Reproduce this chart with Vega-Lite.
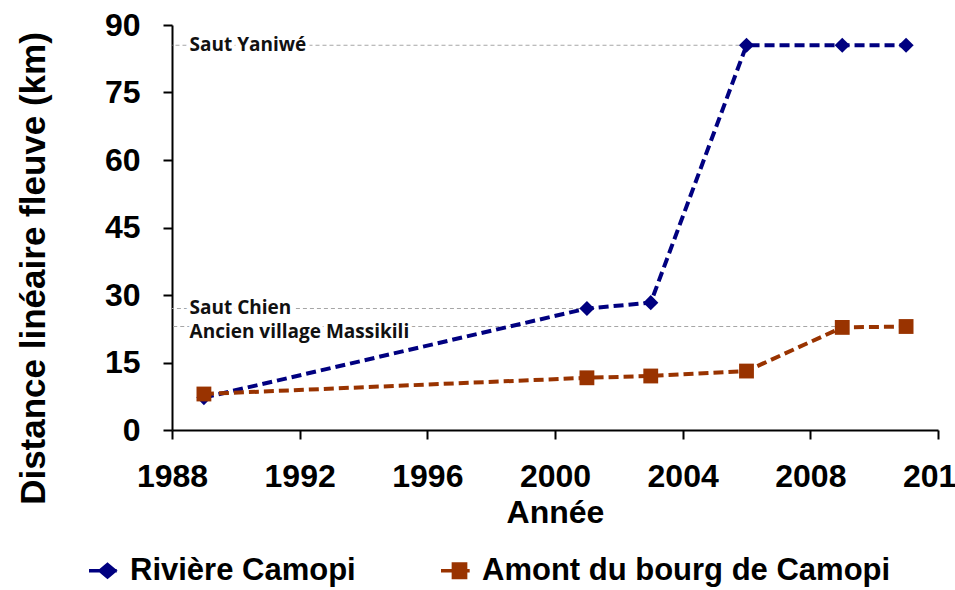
{
  "$schema": "https://vega.github.io/schema/vega-lite/v6.json",
  "width": 766,
  "height": 405,
  "autosize": {"type": "none"},
  "padding": {"left": 172, "top": 25, "right": 17, "bottom": 160},
  "background": "white",
  "datasets": {
    "distances": [
      {"annee": 1989, "serie": "Rivière Camopi", "km": 7.2},
      {"annee": 2001, "serie": "Rivière Camopi", "km": 27},
      {"annee": 2003, "serie": "Rivière Camopi", "km": 28.3},
      {"annee": 2006, "serie": "Rivière Camopi", "km": 85.5},
      {"annee": 2009, "serie": "Rivière Camopi", "km": 85.5},
      {"annee": 2011, "serie": "Rivière Camopi", "km": 85.5},
      {"annee": 1989, "serie": "Amont du bourg de Camopi", "km": 8},
      {"annee": 2001, "serie": "Amont du bourg de Camopi", "km": 11.6},
      {"annee": 2003, "serie": "Amont du bourg de Camopi", "km": 12},
      {"annee": 2006, "serie": "Amont du bourg de Camopi", "km": 13.1},
      {"annee": 2009, "serie": "Amont du bourg de Camopi", "km": 22.8},
      {"annee": 2011, "serie": "Amont du bourg de Camopi", "km": 23}
    ],
    "reperes": [
      {"lieu": "Saut Yaniwé", "km": 85.5, "jusqua": 2006},
      {"lieu": "Saut Chien", "km": 27, "jusqua": 2001},
      {"lieu": "Ancien village Massikili", "km": 23, "jusqua": 2009}
    ]
  },
  "config": {
    "view": {"stroke": null},
    "font": "Liberation Sans",
    "axis": {
      "grid": false,
      "domainColor": "black",
      "domainWidth": 2,
      "tickColor": "black",
      "tickWidth": 2,
      "tickSize": 9,
      "labelFont": "Liberation Sans",
      "labelFontWeight": "bold",
      "labelFontSize": 32,
      "labelColor": "black",
      "titleFont": "Liberation Sans",
      "titleFontWeight": "bold",
      "titleFontSize": 32,
      "titleColor": "black"
    }
  },
  "layer": [
    {
      "data": {"name": "reperes"},
      "mark": {"type": "rule", "color": "#a6a6a6", "strokeWidth": 1.2, "strokeDash": [4, 3]},
      "encoding": {
        "x": {
          "field": "jusqua", "type": "quantitative", "title": "Année",
          "scale": {"domain": [1988, 2012], "nice": false, "zero": false},
          "axis": {"values": [1988, 1992, 1996, 2000, 2004, 2008, 2012], "format": "d", "labelPadding": 22, "titlePadding": 5, "labelFlush": false}
        },
        "x2": {"datum": 1988},
        "y": {
          "field": "km", "type": "quantitative", "title": "Distance linéaire fleuve (km)",
          "scale": {"domain": [0, 90], "nice": false},
          "axis": {"values": [0, 15, 30, 45, 60, 75, 90], "labelPadding": 23, "titleFontSize": 35, "titleX": -139, "titleY": 243, "titleBaseline": "middle", "titleAlign": "center"}
        }
      }
    },
    {
      "data": {"name": "reperes"},
      "transform": [{"filter": "datum.lieu === 'Saut Yaniwé'"}],
      "layer": [
        {
          "mark": {"type": "text", "align": "left", "baseline": "middle", "dy": 0, "font": "Open Sans", "fontWeight": 700, "fontSize": 19, "stroke": "white", "strokeWidth": 8, "strokeJoin": "round", "fill": "white"},
          "encoding": {
            "x": {"datum": 1988.55, "type": "quantitative"},
            "y": {"field": "km", "type": "quantitative"},
            "text": {"field": "lieu"}
          }
        },
        {
          "mark": {"type": "text", "align": "left", "baseline": "middle", "dy": 0, "font": "Open Sans", "fontWeight": 700, "fontSize": 19, "color": "#111111"},
          "encoding": {
            "x": {"datum": 1988.55, "type": "quantitative"},
            "y": {"field": "km", "type": "quantitative"},
            "text": {"field": "lieu"}
          }
        }
      ]
    },
    {
      "data": {"name": "reperes"},
      "transform": [{"filter": "datum.lieu === 'Saut Chien'"}],
      "layer": [
        {
          "mark": {"type": "text", "align": "left", "baseline": "middle", "dy": -1, "font": "Open Sans", "fontWeight": 700, "fontSize": 19, "stroke": "white", "strokeWidth": 8, "strokeJoin": "round", "fill": "white"},
          "encoding": {
            "x": {"datum": 1988.55, "type": "quantitative"},
            "y": {"field": "km", "type": "quantitative"},
            "text": {"field": "lieu"}
          }
        },
        {
          "mark": {"type": "text", "align": "left", "baseline": "middle", "dy": -1, "font": "Open Sans", "fontWeight": 700, "fontSize": 19, "color": "#111111"},
          "encoding": {
            "x": {"datum": 1988.55, "type": "quantitative"},
            "y": {"field": "km", "type": "quantitative"},
            "text": {"field": "lieu"}
          }
        }
      ]
    },
    {
      "data": {"name": "reperes"},
      "transform": [{"filter": "datum.lieu === 'Ancien village Massikili'"}],
      "layer": [
        {
          "mark": {"type": "text", "align": "left", "baseline": "middle", "dy": 5, "font": "Open Sans", "fontWeight": 700, "fontSize": 19, "stroke": "white", "strokeWidth": 8, "strokeJoin": "round", "fill": "white"},
          "encoding": {
            "x": {"datum": 1988.55, "type": "quantitative"},
            "y": {"field": "km", "type": "quantitative"},
            "text": {"field": "lieu"}
          }
        },
        {
          "mark": {"type": "text", "align": "left", "baseline": "middle", "dy": 5, "font": "Open Sans", "fontWeight": 700, "fontSize": 19, "color": "#111111"},
          "encoding": {
            "x": {"datum": 1988.55, "type": "quantitative"},
            "y": {"field": "km", "type": "quantitative"},
            "text": {"field": "lieu"}
          }
        }
      ]
    },
    {
      "data": {"name": "distances"},
      "mark": {"type": "line", "strokeWidth": 4, "strokeDash": [10, 5]},
      "encoding": {
        "x": {"field": "annee", "type": "quantitative"},
        "y": {"field": "km", "type": "quantitative"},
        "color": {"field": "serie", "type": "nominal",
          "scale": {"domain": ["Rivière Camopi", "Amont du bourg de Camopi"], "range": ["#000080", "#993300"]},
          "legend": {
            "title": null,
            "orient": "none",
            "legendX": -85,
            "legendY": 525,
            "direction": "horizontal",
            "padding": 0,
            "columnPadding": 78,
            "labelFont": "Liberation Sans",
            "labelFontWeight": "bold",
            "labelFontSize": 31,
            "labelColor": "black",
            "labelLimit": 0,
            "labelOffset": 2,
            "symbolSize": 1369,
            "symbolOffset": 0,
            "symbolStrokeWidth": 3.5,
            "encode": {
              "symbols": {
                "update": {
                  "shape": {"signal": "datum.value === 'Rivière Camopi' ? 'M-1,0H-0.3M0.35,0H0.5M0,-0.34L0.4,0L0,0.34L-0.4,0Z' : 'M-1,0H-0.35M0.4,0H0.55M-0.33,-0.36H0.33V0.36H-0.33Z'"},
                  "fill": {"scale": "color", "field": "value"},
                  "stroke": {"scale": "color", "field": "value"},
                  "strokeWidth": {"value": 3.5},
                  "strokeDash": {"value": []},
                  "opacity": {"value": 1}
                }
              }
            }
          }
        }
      }
    },
    {
      "data": {"name": "distances"},
      "transform": [{"filter": "datum.serie === 'Rivière Camopi'"}],
      "mark": {"type": "point", "filled": true, "opacity": 1, "shape": "diamond", "size": 230, "color": "#000080"},
      "encoding": {
        "x": {"field": "annee", "type": "quantitative"},
        "y": {"field": "km", "type": "quantitative"}
      }
    },
    {
      "data": {"name": "distances"},
      "transform": [{"filter": "datum.serie === 'Amont du bourg de Camopi'"}],
      "mark": {"type": "point", "filled": true, "opacity": 1, "shape": "square", "size": 220, "color": "#993300"},
      "encoding": {
        "x": {"field": "annee", "type": "quantitative"},
        "y": {"field": "km", "type": "quantitative"}
      }
    }
  ]
}
